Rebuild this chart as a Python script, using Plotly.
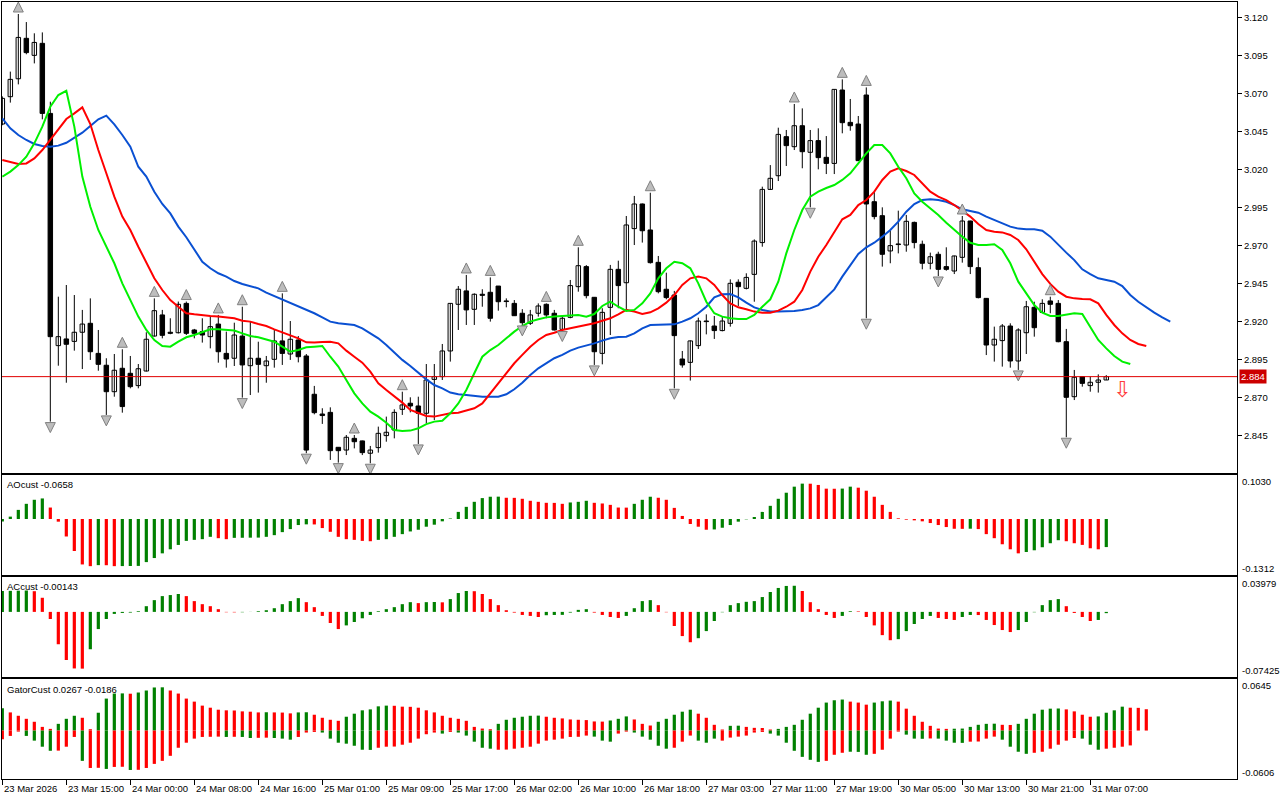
import plotly.graph_objects as go

# ---------------- data ----------------
opens = [3.0498,3.0678,3.0796,3.1062,3.0950,3.1029,3.0568,2.9040,2.9084,2.9068,
 2.9128,2.9187,2.8989,2.8911,2.8737,2.8891,2.8858,2.8777,2.8873,2.9103,
 2.9242,2.9128,2.9125,2.9318,2.9143,2.9132,2.9099,2.9182,2.8989,2.8957,
 2.9103,2.8908,2.8957,2.8908,2.8950,2.9071,2.8985,2.9077,2.8972,2.8720,
 2.8590,2.8601,2.8371,2.8353,2.8430,2.8413,2.8332,2.8369,2.8448,2.8485,
 2.8621,2.8661,2.8643,2.8595,2.8818,2.8836,2.9005,2.9312,2.9400,2.9279,
 2.9378,2.9391,2.9432,2.9334,2.9318,2.9253,2.9187,2.9253,2.9312,2.9253,
 2.9147,2.9226,2.9428,2.9560,2.9358,2.8989,2.9292,2.9542,2.9454,2.9810,
 2.9972,2.9801,2.9588,2.9411,2.9373,2.8952,2.8930,2.9040,2.9202,2.9169,
 2.9139,2.9187,2.9457,2.9417,2.9509,2.9718,3.0068,3.0158,3.0415,3.0349,
 3.0487,3.0312,3.0389,3.0279,3.0239,3.0722,3.0509,3.0498,3.0689,2.9987,
 2.9895,2.9663,2.9709,2.9702,2.9851,2.9707,2.9582,2.9641,2.9560,2.9531,
 2.9621,2.9860,2.9553,2.9351,2.9044,2.9073,2.9169,2.8939,2.9125,2.9292,
 2.9259,2.9334,2.9318,2.9066,2.8704,2.8836,2.8777,2.8799,2.8814]
highs = [3.0680,3.0843,3.1222,3.1169,3.1095,3.1101,3.0645,2.9362,2.9439,2.9373,
 2.9275,2.9351,2.9143,2.8957,2.8985,2.9016,2.8972,2.8919,2.9128,2.9351,
 2.9275,2.9220,2.9330,2.9330,2.9150,2.9220,2.9231,2.9242,2.9132,2.9191,
 2.9296,2.9198,2.9066,2.8972,2.9143,2.9384,2.9202,2.9103,2.8985,2.8775,
 2.8628,2.8634,2.8371,2.8452,2.8452,2.8415,2.8380,2.8507,2.8573,2.8621,
 2.8737,2.8700,2.8704,2.8919,2.8919,2.9051,2.9320,2.9432,2.9505,2.9384,
 2.9411,2.9489,2.9432,2.9351,2.9340,2.9280,2.9275,2.9318,2.9318,2.9275,
 2.9231,2.9472,2.9687,2.9570,2.9360,2.9286,2.9571,2.9599,2.9893,3.0025,
 2.9975,3.0046,2.9630,2.9520,2.9400,2.9005,2.9075,2.9224,2.9246,2.9235,
 2.9231,2.9476,2.9476,2.9516,2.9739,3.0086,3.0228,3.0474,3.0459,3.0630,
 3.0601,3.0459,3.0470,3.0419,3.0726,3.0792,3.0663,3.0551,3.0739,3.0053,
 2.9950,2.9797,2.9928,2.9900,2.9856,2.9731,2.9652,2.9658,2.9687,2.9632,
 2.9893,2.9862,2.9619,2.9353,2.9165,2.9182,2.9187,2.9154,2.9334,2.9329,
 2.9345,2.9362,2.9340,2.9150,2.8880,2.8840,2.8836,2.8851,2.8846]
lows = [3.0490,3.0639,3.0759,3.0957,3.0897,3.0529,2.8540,2.8908,2.8796,2.9007,
 2.8886,2.8946,2.8875,2.8584,2.8704,2.8599,2.8759,2.8759,2.8870,2.9100,
 2.9088,2.9115,2.9120,2.9110,2.9088,2.9060,2.9022,2.8928,2.8895,2.8906,
 2.8698,2.8715,2.8731,2.8796,2.8895,2.8913,2.8946,2.8930,2.8332,2.8588,
 2.8525,2.8288,2.8270,2.8320,2.8364,2.8320,2.8266,2.8336,2.8408,2.8430,
 2.8584,2.8601,2.8393,2.8529,2.8550,2.8814,2.8935,2.9143,2.9176,2.9176,
 2.9296,2.9198,2.9270,2.9292,2.9237,2.9176,2.9176,2.9231,2.9220,2.9140,
 2.9139,2.9220,2.9395,2.9351,2.8913,2.8917,2.9110,2.9286,2.9275,2.9702,
 2.9718,2.9580,2.9384,2.9345,2.8759,2.8895,2.8810,2.9018,2.9114,2.9084,
 2.9134,2.9165,2.9301,2.9410,2.9329,2.9691,3.0064,3.0123,3.0222,3.0327,
 3.0207,2.9950,3.0200,3.0169,3.0169,3.0437,3.0454,3.0255,2.9220,2.9871,
 2.9560,2.9582,2.9647,2.9658,2.9680,2.9542,2.9542,2.9498,2.9533,2.9511,
 2.9586,2.9511,2.9351,2.8978,2.8935,2.8902,2.8895,2.8880,2.8985,2.9099,
 2.9257,2.9253,2.9062,2.8437,2.8682,2.8770,2.8737,2.8731,2.8814]
closes = [3.0667,3.0792,3.1068,3.0968,3.1035,3.0568,2.9099,2.9099,2.9049,2.9128,
 2.9182,2.9000,2.8917,2.8737,2.8878,2.8639,2.8770,2.8888,2.9082,2.9270,
 2.9108,2.9121,2.9312,2.9121,2.9121,2.9110,2.9165,2.9000,2.8952,2.9110,
 2.8913,2.8957,2.8917,2.8939,2.9071,2.8989,2.9082,2.8967,2.8353,2.8599,
 2.8580,2.8349,2.8349,2.8437,2.8408,2.8336,2.8353,2.8463,2.8470,2.8601,
 2.8650,2.8643,2.8595,2.8814,2.8836,2.9005,2.9318,2.9411,2.9275,2.9378,
 2.9371,2.9220,2.9329,2.9330,2.9237,2.9191,2.9242,2.9301,2.9242,2.9143,
 2.9220,2.9435,2.9566,2.9369,2.9000,2.9259,2.9542,2.9435,2.9834,2.9972,
 2.9796,2.9586,2.9395,2.9356,2.9106,2.8913,2.9071,2.9202,2.9198,2.9139,
 2.9202,2.9450,2.9428,2.9489,2.9728,3.0068,3.0141,3.0430,3.0356,3.0487,
 3.0316,3.0389,3.0277,3.0239,3.0726,3.0507,3.0487,3.0257,2.9972,2.9889,
 2.9641,2.9698,2.9705,2.9858,2.9718,2.9582,2.9625,2.9542,2.9542,2.9630,
 2.9860,2.9560,2.9356,2.9044,2.9082,2.9169,2.8939,2.9143,2.9296,2.9158,
 2.9318,2.9312,2.9066,2.8700,2.8832,2.8792,2.8799,2.8814,2.8836]

# Alligator lines (jaw shifted 8, teeth 5, lips 3 bars ahead)
jaw = [3.0535,3.0470,3.0426,3.0393,3.0367,3.0353,3.0349,3.0356,3.0375,3.0410,
 3.0441,3.0485,3.0529,3.0553,3.0496,3.0426,3.0349,3.0217,3.0152,3.0053,
 2.9972,2.9910,2.9823,2.9753,2.9669,2.9592,2.9549,2.9516,2.9494,2.9465,
 2.9446,2.9432,2.9417,2.9389,2.9367,2.9345,2.9318,2.9296,2.9275,2.9253,
 2.9226,2.9198,2.9187,2.9182,2.9176,2.9154,2.9121,2.9088,2.9044,2.8994,
 2.8946,2.8906,2.8862,2.8818,2.8781,2.8759,2.8731,2.8720,2.8715,2.8709,
 2.8704,2.8704,2.8704,2.8720,2.8753,2.8796,2.8847,2.8891,2.8924,2.8957,
 2.8979,2.9007,2.9027,2.9040,2.9055,2.9073,2.9088,2.9097,2.9099,2.9121,
 2.9154,2.9176,2.9176,2.9176,2.9180,2.9198,2.9220,2.9253,2.9296,2.9358,
 2.9378,2.9380,2.9358,2.9323,2.9292,2.9275,2.9264,2.9264,2.9264,2.9268,
 2.9275,2.9285,2.9307,2.9356,2.9410,2.9494,2.9571,2.9643,2.9687,2.9717,
 2.9757,2.9801,2.9856,2.9921,2.9972,2.9998,3.0003,2.9998,2.9987,2.9965,
 2.9937,2.9928,2.9915,2.9889,2.9867,2.9845,2.9823,2.9810,2.9805,2.9805,
 2.9796,2.9757,2.9702,2.9652,2.9603,2.9542,2.9511,2.9483,2.9472,2.9461,
 2.9432,2.9373,2.9329,2.9292,2.9257,2.9226,2.9198]
teeth = [3.0261,3.0250,3.0235,3.0239,3.0272,3.0327,3.0393,3.0459,3.0531,3.0568,
 3.0608,3.0498,3.0327,3.0174,3.0020,2.9889,2.9801,2.9691,2.9582,2.9483,
 2.9406,2.9340,2.9296,2.9253,2.9246,2.9239,2.9235,2.9231,2.9226,2.9220,
 2.9204,2.9198,2.9182,2.9169,2.9147,2.9128,2.9110,2.9088,2.9062,2.9060,
 2.9064,2.9066,2.9055,2.9007,2.8967,2.8928,2.8869,2.8792,2.8748,2.8709,
 2.8665,2.8617,2.8595,2.8577,2.8573,2.8584,2.8595,2.8599,2.8612,2.8628,
 2.8660,2.8726,2.8792,2.8858,2.8924,2.8979,2.9033,2.9077,2.9110,2.9125,
 2.9143,2.9154,2.9165,2.9176,2.9187,2.9204,2.9220,2.9246,2.9275,2.9264,
 2.9248,2.9259,2.9285,2.9323,2.9373,2.9439,2.9483,2.9494,2.9483,2.9439,
 2.9373,2.9318,2.9292,2.9279,2.9264,2.9257,2.9257,2.9270,2.9296,2.9329,
 2.9406,2.9527,2.9625,2.9702,2.9790,2.9871,2.9900,2.9965,2.9998,3.0053,
 3.0130,3.0185,3.0207,3.0189,3.0163,3.0108,3.0053,3.0020,2.9998,2.9965,
 2.9928,2.9889,2.9840,2.9801,2.9790,2.9785,2.9768,2.9735,2.9674,2.9592,
 2.9511,2.9446,2.9395,2.9362,2.9351,2.9347,2.9345,2.9318,2.9242,2.9176,
 2.9121,2.9077,2.9051,2.9038]
lips = [3.0152,3.0185,3.0228,3.0283,3.0371,3.0481,3.0612,3.0689,3.0717,3.0481,
 3.0152,2.9954,2.9801,2.9691,2.9582,2.9450,2.9340,2.9231,2.9143,2.9077,
 2.9038,2.9033,2.9066,2.9095,2.9110,2.9128,2.9147,2.9147,2.9143,2.9139,
 2.9121,2.9103,2.9095,2.9082,2.9066,2.9033,2.9000,2.9011,2.9029,2.9033,
 2.9038,2.8967,2.8902,2.8814,2.8726,2.8660,2.8606,2.8573,2.8533,2.8485,
 2.8478,2.8481,2.8496,2.8524,2.8540,2.8546,2.8595,2.8660,2.8748,2.8858,
 2.8967,2.9011,2.9044,2.9088,2.9132,2.9169,2.9198,2.9213,2.9226,2.9231,
 2.9235,2.9242,2.9242,2.9231,2.9248,2.9301,2.9329,2.9296,2.9268,2.9275,
 2.9318,2.9384,2.9483,2.9549,2.9592,2.9582,2.9549,2.9450,2.9329,2.9253,
 2.9231,2.9220,2.9215,2.9215,2.9242,2.9296,2.9345,2.9461,2.9647,2.9801,
 2.9932,3.0020,3.0053,3.0077,3.0097,3.0130,3.0174,3.0239,3.0305,3.0360,
 3.0360,3.0305,3.0217,3.0141,3.0042,2.9987,2.9943,2.9900,2.9849,2.9801,
 2.9757,2.9717,2.9702,2.9702,2.9707,2.9669,2.9582,2.9461,2.9380,2.9307,
 2.9257,2.9235,2.9235,2.9242,2.9253,2.9248,2.9165,2.9077,2.9022,2.8972,
 2.8935,2.8919]

fractal_up = [2, 15, 19, 23, 27, 30, 35, 44, 50, 58, 61, 68, 72, 81, 99, 105, 108, 120, 131]
fractal_down = [6, 13, 30, 38, 42, 46, 52, 65, 70, 74, 84, 101, 108, 117, 127, 133]

signal_bar = [140]
signal_price = [2.8751]

ao = [-0.0060,0.0055,0.0213,0.0355,0.0450,0.0481,0.0268,-0.0063,-0.0410,-0.0750,
 -0.1065,-0.1105,-0.1081,-0.1083,-0.1105,-0.1103,-0.1101,-0.1099,-0.1010,-0.0915,
 -0.0805,-0.0710,-0.0608,-0.0513,-0.0489,-0.0473,-0.0418,-0.0450,-0.0473,-0.0442,
 -0.0440,-0.0438,-0.0436,-0.0418,-0.0379,-0.0308,-0.0237,-0.0142,-0.0126,-0.0128,
 -0.0213,-0.0300,-0.0418,-0.0473,-0.0489,-0.0513,-0.0521,-0.0489,-0.0473,-0.0418,
 -0.0355,-0.0292,-0.0252,-0.0181,-0.0134,-0.0055,0.0012,0.0166,0.0284,0.0402,
 0.0489,0.0521,0.0523,0.0497,0.0495,0.0473,0.0426,0.0402,0.0379,0.0377,
 0.0355,0.0387,0.0402,0.0426,0.0379,0.0363,0.0331,0.0268,0.0266,0.0355,
 0.0450,0.0521,0.0497,0.0450,0.0260,0.0071,-0.0118,-0.0181,-0.0252,-0.0245,
 -0.0205,-0.0142,-0.0063,-0.0008,0.0047,0.0166,0.0308,0.0473,0.0615,0.0757,
 0.0828,0.0826,0.0797,0.0710,0.0708,0.0712,0.0757,0.0733,0.0662,0.0521,
 0.0331,0.0166,0.0016,-0.0016,-0.0032,-0.0055,-0.0095,-0.0142,-0.0189,-0.0229,
 -0.0231,-0.0228,-0.0237,-0.0355,-0.0450,-0.0592,-0.0710,-0.0805,-0.0773,-0.0733,
 -0.0662,-0.0568,-0.0497,-0.0521,-0.0568,-0.0607,-0.0686,-0.0710,-0.0658]
ac = [0.0238,0.0240,0.0242,0.0244,0.0236,0.0161,-0.0081,-0.0369,-0.0549,-0.0645,
 -0.0647,-0.0426,-0.0196,-0.0081,-0.0023,-0.0012,-0.0008,0.0008,0.0065,0.0134,
 0.0180,0.0192,0.0204,0.0180,0.0123,0.0088,0.0065,0.0031,-0.0004,-0.0005,
 -0.0004,-0.0001,0.0008,0.0019,0.0042,0.0088,0.0123,0.0157,0.0111,0.0054,
 -0.0046,-0.0127,-0.0196,-0.0154,-0.0115,-0.0073,-0.0035,0.0008,0.0031,0.0054,
 0.0088,0.0111,0.0100,0.0111,0.0113,0.0109,0.0146,0.0215,0.0238,0.0236,
 0.0204,0.0146,0.0077,0.0019,-0.0008,-0.0035,-0.0046,-0.0058,-0.0038,-0.0035,
 -0.0034,-0.0008,0.0023,0.0031,-0.0008,-0.0035,-0.0058,-0.0069,-0.0046,0.0042,
 0.0123,0.0134,0.0077,-0.0004,-0.0161,-0.0276,-0.0346,-0.0300,-0.0219,-0.0104,
 -0.0004,0.0077,0.0100,0.0115,0.0123,0.0169,0.0227,0.0273,0.0296,0.0298,
 0.0238,0.0111,0.0031,-0.0035,-0.0069,-0.0046,0.0008,0.0006,-0.0058,-0.0154,
 -0.0265,-0.0323,-0.0311,-0.0219,-0.0138,-0.0081,-0.0046,-0.0069,-0.0081,-0.0092,
 -0.0058,-0.0035,-0.0036,-0.0092,-0.0150,-0.0207,-0.0230,-0.0207,-0.0115,-0.0004,
 0.0077,0.0134,0.0146,0.0065,-0.0012,-0.0058,-0.0104,-0.0092,-0.00143]
gator_up = [0.0278,0.0227,0.0185,0.0147,0.0110,0.0046,0.0021,0.0084,0.0147,0.0185,
 0.0160,0.0017,0.0223,0.0400,0.0463,0.0465,0.0461,0.0476,0.0501,0.0539,
 0.0541,0.0501,0.0463,0.0400,0.0362,0.0312,0.0286,0.0261,0.0253,0.0251,
 0.0240,0.0236,0.0227,0.0229,0.0227,0.0225,0.0215,0.0227,0.0229,0.0198,
 0.0160,0.0135,0.0122,0.0173,0.0211,0.0253,0.0265,0.0303,0.0312,0.0310,
 0.0299,0.0297,0.0286,0.0253,0.0227,0.0185,0.0160,0.0147,0.0122,0.0046,
 0.0025,0.0017,0.0084,0.0135,0.0160,0.0173,0.0185,0.0187,0.0173,0.0160,
 0.0152,0.0139,0.0135,0.0131,0.0114,0.0112,0.0126,0.0147,0.0177,0.0139,
 0.0084,0.0063,0.0110,0.0147,0.0198,0.0236,0.0261,0.0211,0.0160,0.0072,
 0.0013,0.0059,0.0061,0.0046,0.0034,0.0032,0.0013,0.0021,0.0046,0.0072,
 0.0135,0.0211,0.0286,0.0350,0.0379,0.0388,0.0362,0.0350,0.0324,0.0350,
 0.0366,0.0375,0.0362,0.0274,0.0185,0.0110,0.0059,0.0025,0.0021,0.0023,
 0.0025,0.0046,0.0072,0.0084,0.0086,0.0072,0.0070,0.0084,0.0147,0.0211,
 0.0261,0.0274,0.0276,0.0265,0.0240,0.0198,0.0173,0.0177,0.0223,0.0253,
 0.0299,0.0286,0.0284,0.0267]
gator_down = [-0.0110,-0.0067,-0.0013,-0.0067,-0.0126,-0.0202,-0.0253,-0.0251,-0.0202,-0.0080,
 -0.0379,-0.0468,-0.0466,-0.0480,-0.0455,-0.0453,-0.0493,-0.0491,-0.0468,-0.0417,
 -0.0379,-0.0316,-0.0215,-0.0152,-0.0101,-0.0080,-0.0078,-0.0076,-0.0080,-0.0078,
 -0.0080,-0.0093,-0.0091,-0.0089,-0.0093,-0.0101,-0.0114,-0.0080,-0.0025,-0.0017,
 -0.0025,-0.0101,-0.0152,-0.0164,-0.0190,-0.0240,-0.0242,-0.0215,-0.0202,-0.0200,
 -0.0177,-0.0152,-0.0101,-0.0046,-0.0025,-0.0038,-0.0017,-0.0025,-0.0063,-0.0139,
 -0.0215,-0.0227,-0.0240,-0.0238,-0.0227,-0.0215,-0.0202,-0.0164,-0.0126,-0.0114,
 -0.0101,-0.0080,-0.0078,-0.0063,-0.0076,-0.0126,-0.0139,-0.0038,-0.0013,-0.0025,
 -0.0076,-0.0114,-0.0190,-0.0227,-0.0215,-0.0139,-0.0063,-0.0126,-0.0152,-0.0101,
 -0.0126,-0.0088,-0.0076,-0.0063,-0.0025,-0.0017,-0.0038,-0.0063,-0.0152,-0.0253,
 -0.0329,-0.0366,-0.0392,-0.0379,-0.0303,-0.0278,-0.0265,-0.0267,-0.0303,-0.0291,
 -0.0240,-0.0101,-0.0013,-0.0051,-0.0101,-0.0103,-0.0099,-0.0101,-0.0126,-0.0152,
 -0.0154,-0.0139,-0.0137,-0.0101,-0.0076,-0.0114,-0.0202,-0.0265,-0.0291,-0.0278,
 -0.0265,-0.0227,-0.0177,-0.0126,-0.0093,-0.0101,-0.0177,-0.0240,-0.0227,-0.0215,
 -0.0202,-0.0186]
# G = rising (green), R = falling (red)
gator_up_dir = ("GRRRRRRGGG" "RRGGGGRGGG" "GRRRRRRRRR" "RRRGRRRGGR" "RRRGGGGGGR"
                "RRRRRRRRRR" "RRGGGGGGRR" "RRRRRRGGGR" "RRGGGGGRRR" "RGGRRRRGGG"
                "GGGGGGRRRG" "GGRRRRRRRG" "GGGGGRRGGG" "GGGRRRRGGG" "GRRR")
gator_down_dir = ("RRRGGGGRRR" "GRRGRRGRRR" "RRRRRRRRGR" "GGRRGGGRRR" "GGGGGGGRRR"
                  "RRRRRGRGGG" "GGRRRRRRRR" "RRRRGGGRRG" "GGGGRRRGGG" "RRRRRRGGGG"
                  "GGGRRRGGGR" "RRRGGGRGGG" "GRRRRGGGGR" "RRRRRGGGRR" "RR")

price_ticks = [2.845, 2.870, 2.895, 2.920, 2.945, 2.970, 2.995, 3.020, 3.045, 3.070, 3.095, 3.120]
price_range = [2.8202, 3.1301]
ao_scale = [-0.1312, 0.1030]
ac_scale = [-0.07425, 0.03979]
gator_scale = [-0.0606, 0.0645]

date_tick_bars = [0, 8, 16, 24, 32, 40, 48, 56, 64, 72, 80, 88, 96, 104, 112, 120, 128, 136]
date_tick_labels = ["23 Mar 2026", "23 Mar 15:00", "24 Mar 00:00", "24 Mar 08:00", "24 Mar 16:00",
                    "25 Mar 01:00", "25 Mar 09:00", "25 Mar 17:00", "26 Mar 02:00", "26 Mar 10:00",
                    "26 Mar 18:00", "27 Mar 03:00", "27 Mar 11:00", "27 Mar 19:00", "30 Mar 05:00",
                    "30 Mar 13:00", "30 Mar 21:00", "31 Mar 07:00"]

# ---------------- styles ----------------
GREEN = "#008000"
RED = "#FF0000"
FONT = "Liberation Sans"
FS = 9.5
W, H = 1280, 800

n = len(closes)
idx = list(range(n))

fig = go.Figure()

# candle wicks
wx, wy = [], []
for i in range(n):
    wx += [i, i, None]
    wy += [lows[i], highs[i], None]
fig.add_trace(go.Scatter(x=wx, y=wy, mode="lines", line=dict(color="black", width=1),
                         hoverinfo="skip", xaxis="x", yaxis="y"))

# candle bodies
base = [min(o, c) for o, c in zip(opens, closes)]
hgt = [max(abs(c - o), 0.0002) for o, c in zip(opens, closes)]
bcol = ["white" if c >= o else "black" for o, c in zip(opens, closes)]
fig.add_trace(go.Bar(x=idx, y=hgt, base=base, width=0.56,
                     marker=dict(color=bcol, line=dict(color="black", width=1)),
                     hoverinfo="skip", xaxis="x", yaxis="y"))

# alligator lines
fig.add_trace(go.Scatter(x=list(range(len(jaw))), y=jaw, mode="lines",
                         line=dict(color="#0A50D2", width=2), xaxis="x", yaxis="y"))
fig.add_trace(go.Scatter(x=list(range(len(teeth))), y=teeth, mode="lines",
                         line=dict(color="#FF0000", width=2), xaxis="x", yaxis="y"))
fig.add_trace(go.Scatter(x=list(range(len(lips))), y=lips, mode="lines",
                         line=dict(color="#00F000", width=2), xaxis="x", yaxis="y"))

# fractals (arrow tip sits at the marker point)
up_off = 0.0079
dn_off = 0.0072
fig.add_trace(go.Scatter(x=fractal_up, y=[highs[i] + up_off for i in fractal_up], mode="markers",
                         marker=dict(symbol="arrow-up", size=10, color="#BDBDBD",
                                     line=dict(color="#808080", width=1)),
                         xaxis="x", yaxis="y"))
fig.add_trace(go.Scatter(x=fractal_down, y=[lows[i] - dn_off for i in fractal_down], mode="markers",
                         marker=dict(symbol="arrow-down", size=10, color="#BDBDBD",
                                     line=dict(color="#808080", width=1)),
                         xaxis="x", yaxis="y"))


def updown_colors(vals):
    cols = [GREEN if vals[i] >= vals[i - 1] else RED for i in range(1, len(vals))]
    return [cols[0]] + cols


fig.add_trace(go.Bar(x=list(range(len(ao))), y=ao, width=0.4,
                     marker=dict(color=updown_colors(ao), line=dict(width=0)),
                     xaxis="x2", yaxis="y2"))
fig.add_trace(go.Bar(x=list(range(len(ac))), y=ac, width=0.4,
                     marker=dict(color=updown_colors(ac), line=dict(width=0)),
                     xaxis="x3", yaxis="y3"))
fig.add_trace(go.Bar(x=list(range(len(gator_up))), y=gator_up, width=0.4,
                     marker=dict(color=[GREEN if d == "G" else RED for d in gator_up_dir], line=dict(width=0)),
                     xaxis="x4", yaxis="y4"))
fig.add_trace(go.Bar(x=list(range(len(gator_down))), y=gator_down, width=0.4,
                     marker=dict(color=[GREEN if d == "G" else RED for d in gator_down_dir], line=dict(width=0)),
                     xaxis="x4", yaxis="y4"))

# ---------------- layout ----------------
xdom = [2 / W, 1237 / W]
xr = [-0.04, 154.34]


def pdom(top, bottom):
    return [1 - bottom / H, 1 - top / H]


axis_common = dict(showgrid=False, zeroline=False, showline=True, mirror=True,
                   linecolor="black", linewidth=1, fixedrange=True)

layout = dict(
    width=W, height=H, margin=dict(l=0, r=0, t=0, b=0),
    paper_bgcolor="white", plot_bgcolor="white", showlegend=False,
    barmode="overlay", hovermode=False,
    font=dict(family=FONT, size=FS, color="black"),
    xaxis=dict(domain=xdom, range=xr, anchor="y", showticklabels=False, **axis_common),
    xaxis2=dict(domain=xdom, range=xr, anchor="y2", matches="x", showticklabels=False, **axis_common),
    xaxis3=dict(domain=xdom, range=xr, anchor="y3", matches="x", showticklabels=False, **axis_common),
    xaxis4=dict(domain=xdom, range=xr, anchor="y4", matches="x", showticklabels=False,
                ticks="outside", tickvals=date_tick_bars, ticklen=5, tickcolor="black", **axis_common),
    yaxis=dict(domain=pdom(2, 473), range=price_range, anchor="x", side="right",
               tickvals=price_ticks, ticktext=[f"{v:.3f}" for v in price_ticks],
               ticks="outside", ticklen=4, tickcolor="black", automargin=False,
               tickfont=dict(family=FONT, size=FS), **axis_common),
    yaxis2=dict(domain=pdom(475, 575), range=ao_scale, anchor="x2", side="right",
                showticklabels=False, **axis_common),
    yaxis3=dict(domain=pdom(577, 677), range=ac_scale, anchor="x3", side="right",
                showticklabels=False, **axis_common),
    yaxis4=dict(domain=pdom(679, 779), range=gator_scale, anchor="x4", side="right",
                showticklabels=False, **axis_common),
)
fig.update_layout(**layout)

annotations = []
# date labels
for b, lab in zip(date_tick_bars, date_tick_labels):
    annotations.append(dict(x=b, xref="x4", y=1 - 788 / H, yref="paper", text=lab, showarrow=False,
                            xanchor="left", yanchor="middle", xshift=0, font=dict(size=FS)))
# panel titles
annotations.append(dict(x=5 / W, xref="paper", y=1 - 484.5 / H, yref="paper",
                        text=f"AOcust {ao[-1]:.4f}", showarrow=False, xanchor="left", yanchor="middle"))
annotations.append(dict(x=5 / W, xref="paper", y=1 - 586.5 / H, yref="paper",
                        text=f"ACcust {ac[-1]:.5f}", showarrow=False, xanchor="left", yanchor="middle"))
annotations.append(dict(x=5 / W, xref="paper", y=1 - 689 / H, yref="paper",
                        text=f"GatorCust {gator_up[-1]:.4f} {gator_down[-1]:.4f}", showarrow=False,
                        xanchor="left", yanchor="middle"))
# indicator scale labels
for ax, sc, fmt in (("y2", ao_scale, "{:.4f}"), ("y3", ac_scale, "{:.5f}"), ("y4", gator_scale, "{:.4f}")):
    annotations.append(dict(x=1240 / W, xref="paper", y=1, yref=f"{ax} domain", text=fmt.format(sc[1]),
                            showarrow=False, xanchor="left", yanchor="top", yshift=1))
    annotations.append(dict(x=1240 / W, xref="paper", y=0, yref=f"{ax} domain", text=fmt.format(sc[0]),
                            showarrow=False, xanchor="left", yanchor="bottom", yshift=-1))
# current price label
annotations.append(dict(x=1239 / W, xref="paper", y=closes[-1], yref="y", text=f"{closes[-1]:.3f}",
                        showarrow=False, xanchor="left", yanchor="middle", bgcolor="#CC0000",
                        font=dict(color="white", size=FS), borderpad=1))
# sell signal arrow
annotations.append(dict(x=signal_bar[0], xref="x", y=signal_price[0], yref="y", text="\u21e9",
                        showarrow=False, xanchor="center", yanchor="middle",
                        font=dict(family="DejaVu Sans", size=22, color="#FF3B3B")))
fig.update_layout(annotations=annotations)

# current price line
fig.add_shape(type="line", xref="x domain", x0=0, x1=1, yref="y", y0=closes[-1], y1=closes[-1],
              line=dict(color="#E00000", width=1))

fig.write_html("out.html", config={"displayModeBar": False, "staticPlot": True},
               post_script="document.body.style.margin='0';document.body.style.overflow='hidden';")
